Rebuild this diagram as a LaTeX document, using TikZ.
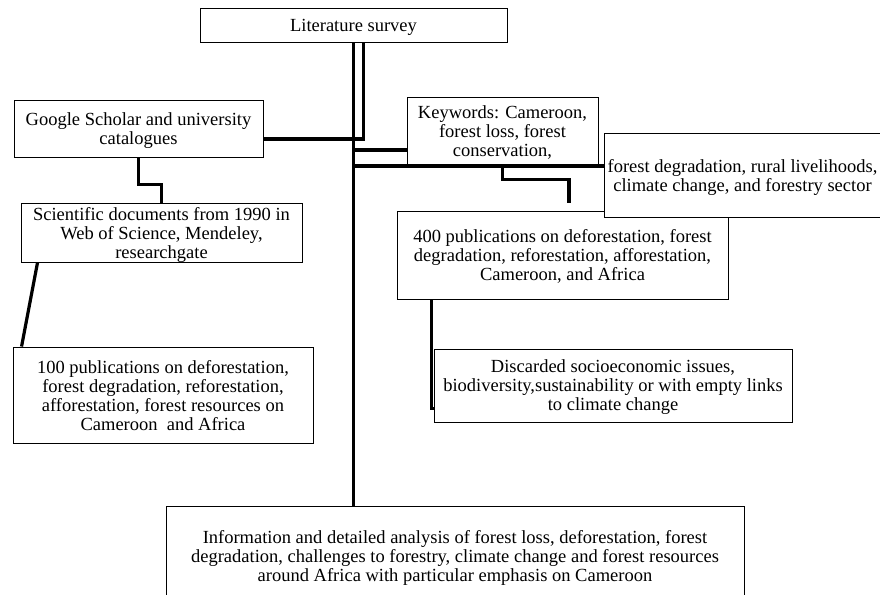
\documentclass[tikz,border=0pt]{standalone}
\usepackage{fontspec}
\setmainfont{Liberation Serif}
\usetikzlibrary{shadows}

\begin{document}
\begin{tikzpicture}[x=1pt, y=-1pt]
\tikzset{boite/.style={draw, fill=white, line width=0.9pt, inner sep=1pt, align=center, font=\fontsize{18.5}{19}\selectfont, text depth=0pt, drop shadow={shadow xshift=1.2pt, shadow yshift=-1.2pt, fill=black!35}}}
\tikzset{trait/.style={line width=3.2pt}}
\clip (0, 0) rectangle (880, 594);
\fill[white] (0, 0) rectangle (880, 594);
\node[boite, minimum width=307, minimum height=34] (B1) at (353.5, 25) {Literature survey};
\node[boite, minimum width=249, minimum height=57] (B2) at (138.5, 128.5) {Google Scholar and university\\catalogues};
\node[boite, minimum width=281, minimum height=59] (B3) at (161.5, 232.5) {Scientific documents from 1990 in\\Web of Science, Mendeley,\\researchgate};
\node[boite, minimum width=300, minimum height=96] (B4) at (163, 395) {100 publications on deforestation,\\forest degradation, reforestation,\\afforestation, forest resources on\\Cameroon\ \ and Africa};
\node[boite, minimum width=191, minimum height=68] (B5) at (502.5, 131) {Keywords: Cameroon,\\forest loss, forest\\conservation,};
\node[boite, minimum width=331, minimum height=88] (B6) at (562.5, 255) {400 publications on deforestation, forest\\degradation, reforestation, afforestation,\\Cameroon, and Africa};
\node[boite, minimum width=277, minimum height=84] (B7) at (742.5, 175) {forest degradation, rural livelihoods,\\climate change, and forestry sector};
\node[boite, minimum width=358, minimum height=73] (B8) at (613, 385.5) {Discarded socioeconomic issues,\\biodiversity,sustainability or with empty links\\to climate change};
\node[boite, minimum width=578, minimum height=100] (B9) at (455, 556) {Information and detailed analysis of forest loss, deforestation, forest\\degradation, challenges to forestry, climate change and forest resources\\around Africa with particular emphasis on Cameroon};
\coordinate (J1) at (354, 139);
\coordinate (J2) at (354, 150);
\coordinate (J3) at (354, 166);
\coordinate (K1) at (569, 203);
\draw[trait] (B1.south) -- (B1.south |- B9.north);
\draw[trait] ([xshift=10pt]B1.south) |- (J1);
\draw[trait] (B2.east |- J1) -- (J1);
\draw[trait] (J2) -- (B5.west |- J2);
\draw[trait] (J3) -- (B7.west |- J3);
\draw[trait] (B5.south) -- ++(0, 14) -| (K1);
\draw[trait] (B2.south) -- ++(0, 27) -| (B3.north);
\draw[trait] ([xshift=17pt]B3.south west) -- ([xshift=9pt]B4.north west);
\draw[trait] ([xshift=35pt]B6.south west) |- ([yshift=14pt]B8.south west);
\end{tikzpicture}
\end{document}
